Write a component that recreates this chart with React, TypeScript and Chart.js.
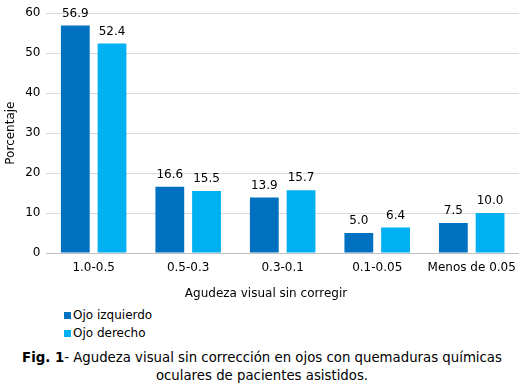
import React, { useEffect, useRef } from "react";
import { Chart, registerables } from "chart.js";

Chart.register(...registerables);

const categories = ["1.0-0.5", "0.5-0.3", "0.3-0.1", "0.1-0.05", "Menos de 0.05"];
const izquierdo = [56.9, 16.6, 13.9, 5.0, 7.5];
const derecho = [52.4, 15.5, 15.7, 6.4, 10.0];
const seriesNames = ["Ojo izquierdo", "Ojo derecho"];
const colors = ["#0070C0", "#00B0F0"];
const xTitle = "Agudeza visual sin corregir";
const yTitle = "Porcentaje";

const FONT = "'DejaVu Sans', Verdana, sans-serif";

const dataLabels = {
  id: "dataLabels",
  afterDatasetsDraw(chart: any) {
    const ctx = chart.ctx;
    ctx.save();
    ctx.font = `12px ${FONT}`;
    ctx.fillStyle = "#000000";
    ctx.textAlign = "center";
    ctx.textBaseline = "middle";
    chart.data.datasets.forEach((ds: any, i: number) => {
      const meta = chart.getDatasetMeta(i);
      meta.data.forEach((bar: any, j: number) => {
        ctx.fillText(Number(ds.data[j]).toFixed(1), bar.x, bar.y - 12);
      });
    });
    ctx.restore();
  },
};

export default function App() {
  const ref = useRef<HTMLCanvasElement>(null);
  useEffect(() => {
    if (!ref.current) return;
    const chart = new Chart(ref.current, {
      type: "bar",
      data: {
        labels: categories,
        datasets: [
          { label: seriesNames[0], data: izquierdo, backgroundColor: colors[0], categoryPercentage: 0.777, barPercentage: 0.784 },
          { label: seriesNames[1], data: derecho, backgroundColor: colors[1], categoryPercentage: 0.777, barPercentage: 0.784 },
        ],
      },
      options: {
        animation: false,
        responsive: false,
        layout: { padding: { top: 13, right: 1.5, left: 0, bottom: 0 } },
        plugins: { legend: { display: false }, tooltip: { enabled: false } },
        scales: {
          x: {
            grid: { display: false, drawTicks: false },
            border: { color: "#BFBFBF" },
            ticks: { color: "#000000", font: { family: FONT, size: 12 }, padding: 8 },
            afterFit: (s: any) => { s.height = 52; },
          },
          y: {
            min: 0,
            max: 60,
            ticks: { stepSize: 10, color: "#000000", font: { family: FONT, size: 12 }, padding: 6 },
            grid: { color: "#D9D9D9", drawTicks: false },
            border: { display: false },
            title: { display: true, text: yTitle, color: "#000000", font: { family: FONT, size: 12 } },
            afterFit: (s: any) => { s.width = 46.4; },
          },
        },
      },
      plugins: [dataLabels],
    });
    return () => chart.destroy();
  }, []);

  const legendItem = (name: string, color: string, top: number) => (
    <div style={{ position: "absolute", left: 64, top, display: "flex", alignItems: "center", fontFamily: FONT, fontSize: 12, color: "#000" }}>
      <span style={{ display: "inline-block", width: 7, height: 7, background: color, marginRight: 2 }} />
      <span>{name}</span>
    </div>
  );

  return (
    <div style={{ position: "absolute", left: 0, top: 0, width: 524, height: 387, background: "#fff" }}>
      <canvas ref={ref} width={524} height={305} style={{ position: "absolute", left: 0, top: 0 }} />
      <div style={{ position: "absolute", left: 166, top: 286, width: 200, textAlign: "center", fontFamily: FONT, fontSize: 12, lineHeight: "14px", color: "#000" }}>
        {xTitle}
      </div>
      {legendItem(seriesNames[0], colors[0], 308)}
      {legendItem(seriesNames[1], colors[1], 326)}
      <div style={{ position: "absolute", left: 0, top: 349, width: 524, textAlign: "center", fontFamily: FONT, fontSize: 13.3, lineHeight: "18px", color: "#000" }}>
        <b>Fig. 1</b>- Agudeza visual sin corrección en ojos con quemaduras químicas
        <br />
        oculares de pacientes asistidos.
      </div>
    </div>
  );
}
